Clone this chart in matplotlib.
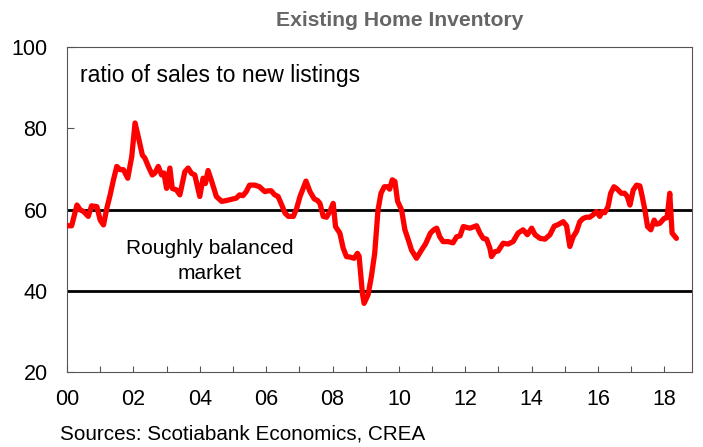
import matplotlib
matplotlib.use("Agg")
import matplotlib.pyplot as plt
import numpy as np

plt.rcParams['font.family'] = ['Liberation Sans', 'DejaVu Sans']

# Years since 2000 (decimal) and ratio of sales to new listings (%)
year_offset = [
    0.00, 0.14, 0.30, 0.40, 0.50, 0.64, 0.74, 0.90, 1.00, 1.10, 1.20, 1.30, 1.40, 1.50,
    1.60, 1.70, 1.83, 1.95, 2.05, 2.17, 2.27, 2.35, 2.45, 2.57, 2.65, 2.75, 2.85, 2.92,
    3.00, 3.10, 3.17, 3.30, 3.40, 3.55, 3.65, 3.75, 3.85, 4.00, 4.10, 4.17, 4.25, 4.36,
    4.50, 4.66, 4.80, 4.90, 5.10, 5.20, 5.30, 5.40, 5.50, 5.66, 5.80, 5.96, 6.06, 6.15,
    6.26, 6.36, 6.47, 6.57, 6.67, 6.82, 6.92, 7.02, 7.20, 7.32, 7.45, 7.55, 7.62, 7.72,
    7.82, 7.92, 8.02, 8.09, 8.22, 8.32, 8.42, 8.52, 8.65, 8.75, 8.80, 8.90, 8.95, 9.07,
    9.17, 9.27, 9.37, 9.46, 9.56, 9.66, 9.72, 9.80, 9.88, 9.96, 10.08, 10.18, 10.30,
    10.38, 10.53, 10.68, 10.80, 10.95, 11.05, 11.14, 11.23, 11.33, 11.48, 11.63, 11.74,
    11.84, 11.94, 12.04, 12.14, 12.27, 12.34, 12.44, 12.54, 12.64, 12.74, 12.79, 12.89,
    12.99, 13.14, 13.29, 13.44, 13.59, 13.74, 13.87, 14.00, 14.10, 14.25, 14.40, 14.55,
    14.68, 14.80, 14.95, 15.05, 15.15, 15.25, 15.35, 15.45, 15.55, 15.65, 15.75, 15.85,
    15.95, 16.05, 16.12, 16.20, 16.30, 16.38, 16.48, 16.58, 16.70, 16.80, 16.88, 16.96,
    17.06, 17.16, 17.26, 17.33, 17.41, 17.49, 17.59, 17.69, 17.76, 17.86, 17.99, 18.08,
    18.16, 18.23, 18.36,
]
ratio = [
    56.0, 56.0, 61.1, 59.9, 59.5, 58.3, 60.9, 60.7, 57.4, 56.2, 60.3, 63.6, 67.3, 70.6,
    69.8, 69.8, 67.7, 73.0, 81.3, 77.1, 73.4, 72.6, 70.6, 68.5, 69.0, 70.6, 68.5, 69.0,
    65.2, 70.2, 65.2, 64.8, 63.6, 69.3, 70.2, 68.9, 68.5, 63.2, 67.7, 66.4, 69.6, 66.9,
    63.2, 62.0, 62.2, 62.4, 62.8, 63.6, 63.4, 64.4, 66.0, 66.0, 65.6, 64.4, 64.6, 64.6,
    63.6, 63.2, 61.1, 59.1, 58.3, 58.3, 60.3, 63.2, 67.0, 64.4, 62.6, 62.2, 61.5, 58.3,
    58.1, 59.5, 61.5, 55.8, 54.2, 50.5, 48.4, 48.3, 48.0, 49.2, 48.5, 39.4, 36.9, 39.0,
    43.5, 49.2, 59.9, 64.0, 65.6, 65.6, 65.0, 67.3, 66.9, 62.0, 59.9, 55.0, 52.1,
    50.0, 48.0, 50.0, 51.5, 54.2, 55.0, 55.4, 53.3, 52.1, 52.1, 51.8, 53.3,
    53.5, 55.8, 55.6, 55.4, 55.8, 56.0, 54.2, 52.9, 52.7, 50.5, 48.4, 49.6,
    49.8, 51.7, 51.5, 52.1, 54.2, 55.0, 53.8, 55.4, 53.8, 52.9, 52.7, 53.8,
    55.9, 56.3, 57.0, 56.0, 50.9, 53.3, 54.6, 57.0, 57.8, 58.1, 58.1, 58.7,
    59.5, 58.3, 59.5, 59.2, 60.7, 64.0, 65.6, 65.0, 64.0, 64.0, 63.2, 61.1,
    64.8, 66.0, 65.8, 63.2, 59.9, 55.8, 55.0, 57.4, 56.4, 56.6, 57.8, 58.0,
    64.0, 54.2, 52.9,
]

balanced_band = [40, 60]
tick_years = list(range(0, 19))
y_ticks = [20, 40, 60, 80, 100]

fig = plt.figure(figsize=(7.03, 4.47), dpi=100)
ax = fig.add_axes([67/703, 1-372/447, (692-67)/703, (372-47)/447])

x = 2000 + np.array(year_offset)
ax.plot(x, ratio, color='#ff0000', lw=3.8, solid_joinstyle='round', solid_capstyle='round', zorder=3)
for b in balanced_band:
    ax.axhline(b, color='black', lw=2.0, zorder=2)

ax.set_xlim(2000, 2018.83)
ax.set_ylim(20, 100)
ax.set_xticks([2000 + y for y in tick_years])
ax.set_xticklabels([("%02d" % y) if y % 2 == 0 else "" for y in tick_years])
ax.set_yticks(y_ticks)
ax.tick_params(axis='x', direction='in', length=4, width=0.8, colors='#555555',
               labelcolor='black', labelsize=15.5, pad=12)
ax.tick_params(axis='y', direction='in', length=5, width=0.8, colors='#555555',
               labelcolor='black', labelsize=15.5, pad=14)
for s in ax.spines.values():
    s.set_color('#555555')
    s.set_linewidth(0.8)

ax.text(0.021, 0.913, "ratio of sales to new listings", transform=ax.transAxes,
        fontsize=16.5, va='center', ha='left')
ax.text(2004.3, 50.4, "Roughly balanced", fontsize=15, ha='center', va='center')
ax.text(2004.3, 44.3, "market", fontsize=15, ha='center', va='center')

fig.text(400/703, 1-21/447, "Existing Home Inventory", fontsize=15.2, fontweight='bold',
         color='#666666', ha='center', va='center')
fig.text(60/703, 1-434/447, "Sources: Scotiabank Economics, CREA", fontsize=14.9,
         ha='left', va='center')

fig.savefig("out.png", dpi=100)
